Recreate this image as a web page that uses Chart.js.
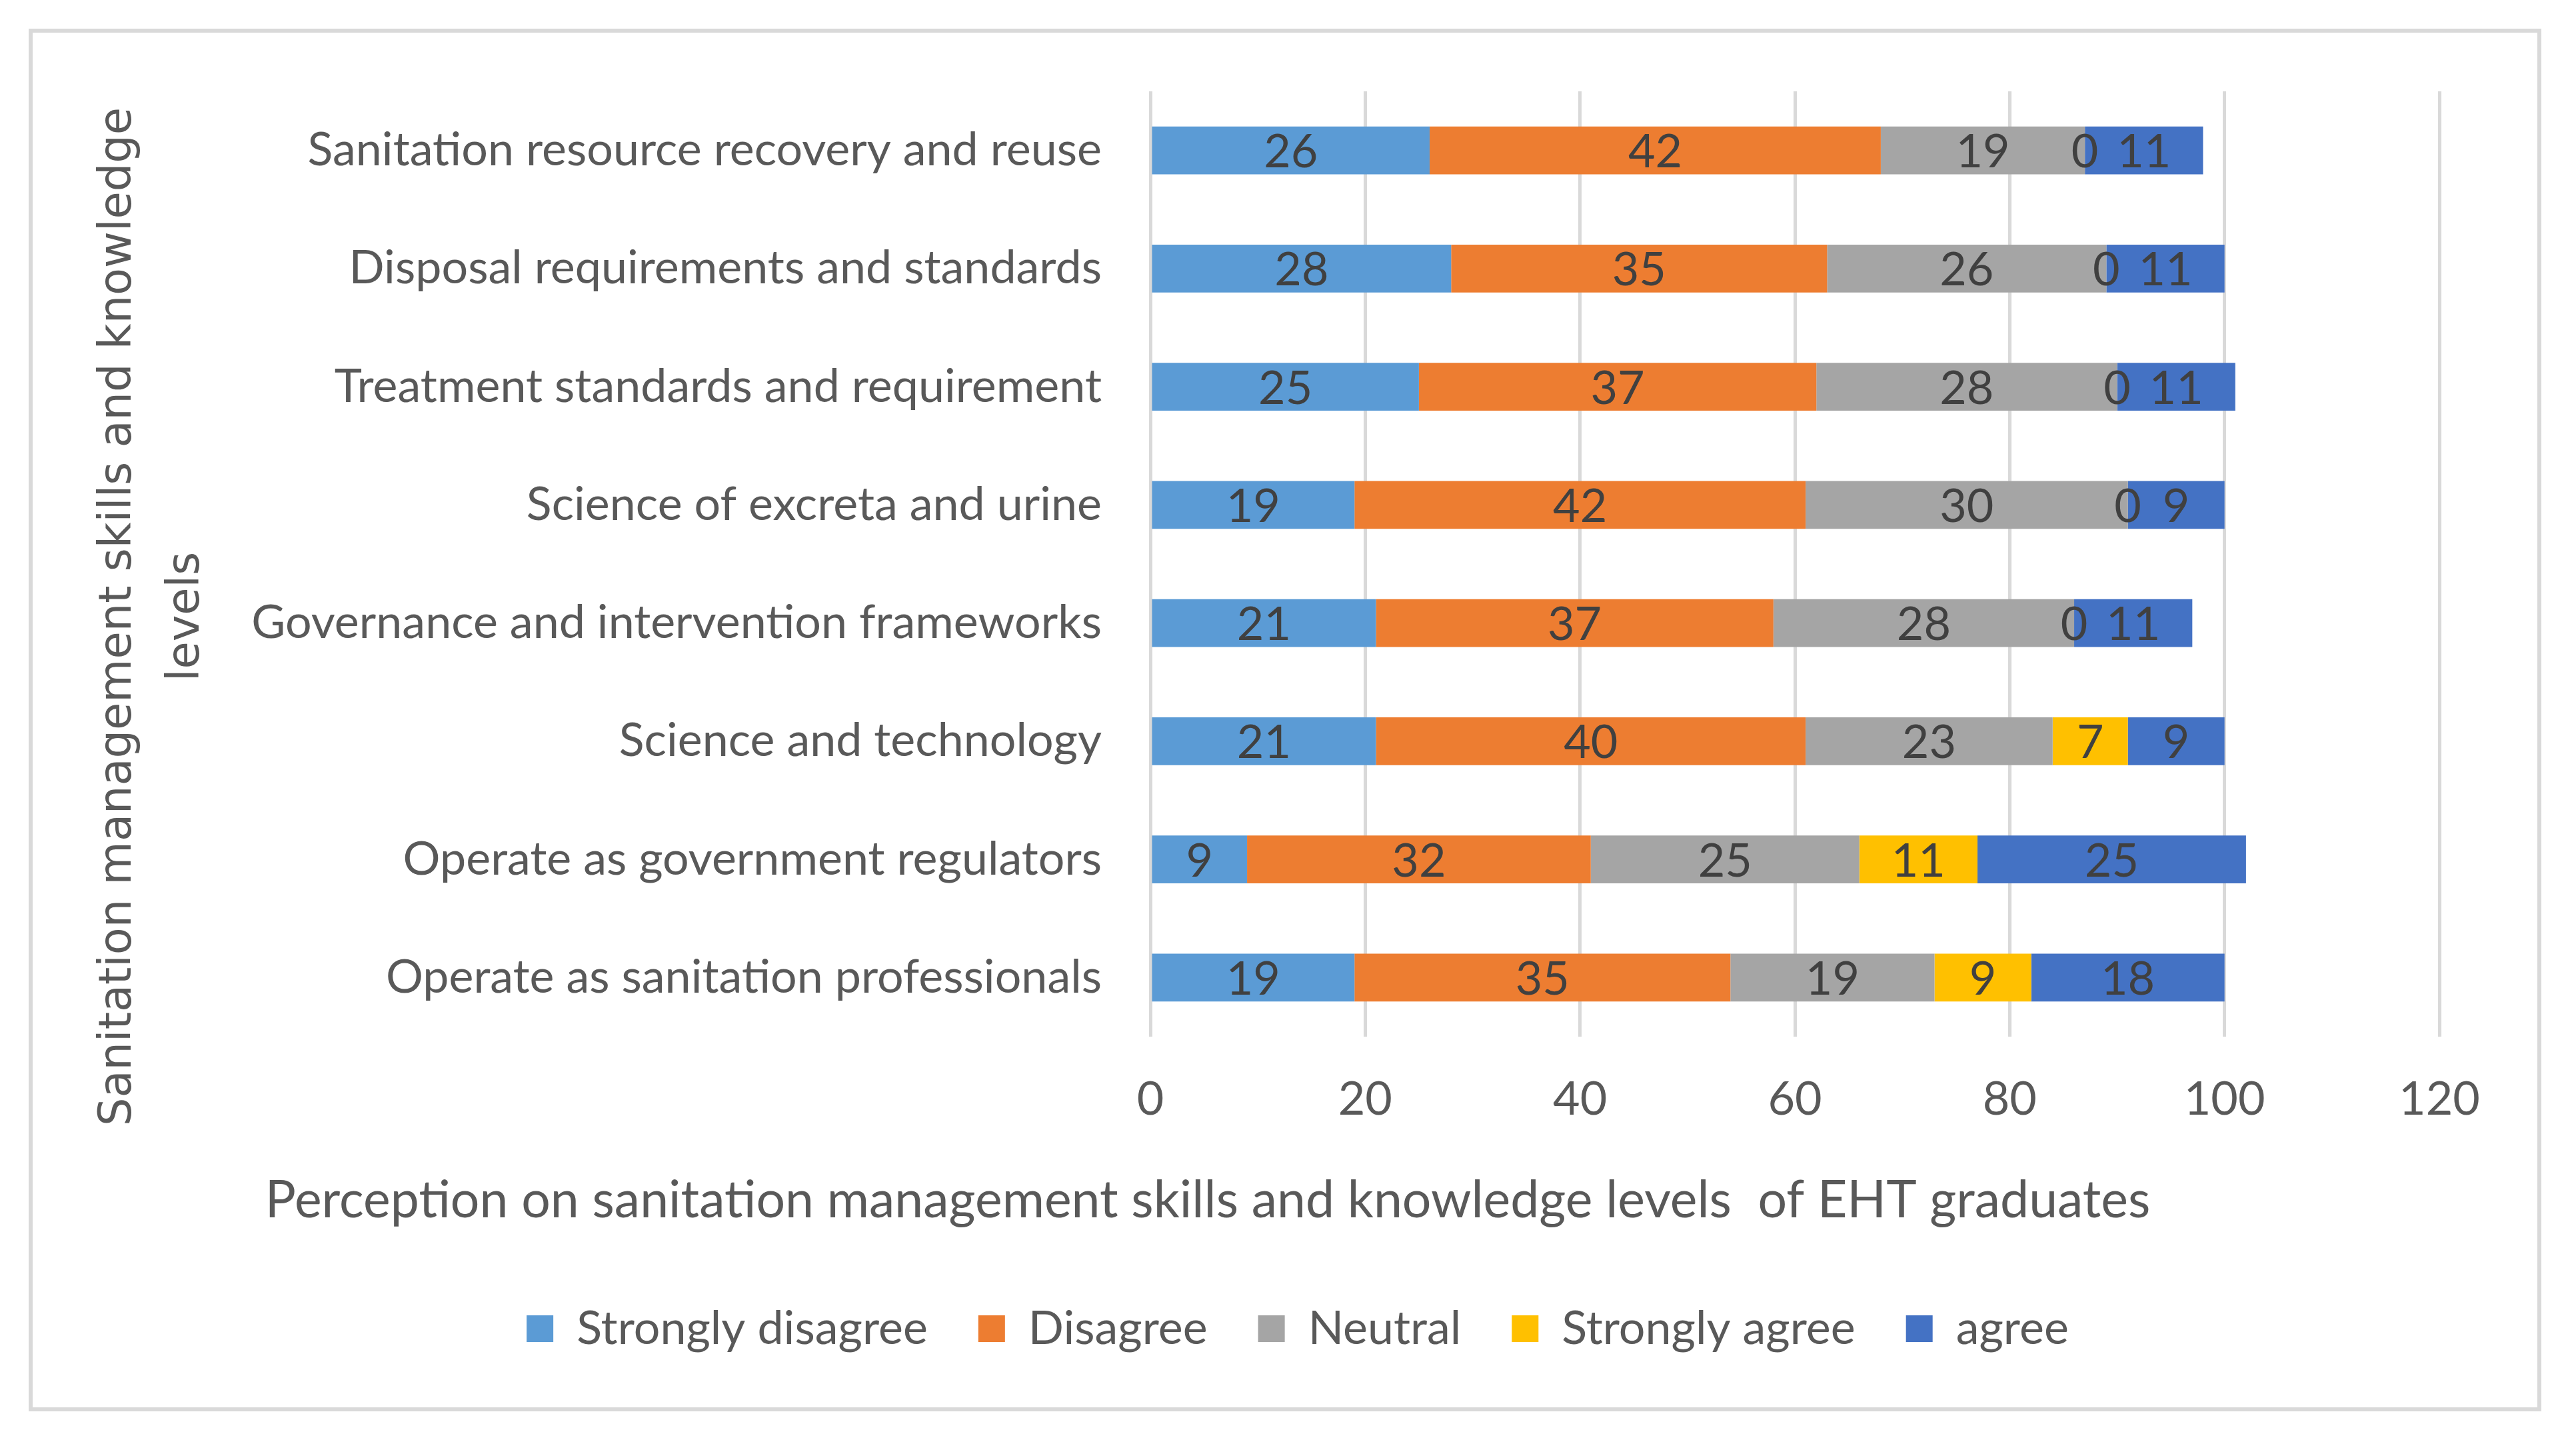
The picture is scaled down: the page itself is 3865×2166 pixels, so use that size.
<!DOCTYPE html>
<html>
<head>
<meta charset="utf-8">
<title>Perception on sanitation management skills</title>
<script src="https://cdn.jsdelivr.net/npm/chart.js@4.4.1/dist/chart.umd.min.js"></script>
<style>
  html, body { margin: 0; padding: 0; background: #ffffff; }
  #wrap { position: relative; width: 3865px; height: 2166px; }
</style>
</head>
<body>
<div id="wrap"><canvas id="skills-chart"></canvas></div>
<script>
// Data
const categories = [
  'Sanitation resource recovery and reuse',
  'Disposal requirements and standards',
  'Treatment standards and requirement',
  'Science of excreta and urine',
  'Governance and intervention frameworks',
  'Science and technology',
  'Operate as government regulators',
  'Operate as sanitation professionals'
];
const stronglyDisagree = [26, 28, 25, 19, 21, 21, 9, 19];
const disagree = [42, 35, 37, 42, 37, 40, 32, 35];
const neutral = [19, 26, 28, 30, 28, 23, 25, 19];
const stronglyAgree = [0, 0, 0, 0, 0, 7, 11, 9];
const agree = [11, 11, 11, 9, 11, 9, 25, 18];
const xTicks = [0, 20, 40, 60, 80, 100, 120];

const xTitle = 'Perception on sanitation management skills and knowledge levels  of EHT graduates';
const yTitle = ['Sanitation management skills and knowledge', 'levels'];

const FONT = 'Lato, "Open Sans", sans-serif';
const GREY_TEXT = '#595959';
const PAD_LEFT = 234;   // keeps the legend centred like the original

// Outer frame plus the two axis titles, drawn where the reference has them
const framePlugin = {
  id: 'frame',
  beforeDraw(chart) {
    const ctx = chart.ctx;
    ctx.save();
    ctx.fillStyle = '#ffffff';
    ctx.fillRect(0, 0, chart.width, chart.height);
    ctx.strokeStyle = '#D9D9D9';
    ctx.lineWidth = 6;
    ctx.strokeRect(46, 46, 3764, 2068);
    ctx.restore();
  },
  afterDraw(chart) {
    const ctx = chart.ctx;
    ctx.save();
    ctx.fillStyle = GREY_TEXT;
    ctx.textAlign = 'center';
    ctx.textBaseline = 'alphabetic';
    ctx.font = '77px ' + FONT;
    ctx.fillText(xTitle, 1812, 1826);

    ctx.font = '67px "DejaVu Sans", sans-serif';
    const baselines = [196, 298];
    yTitle.forEach((line, i) => {
      ctx.save();
      ctx.translate(baselines[i], 925);
      ctx.rotate(-Math.PI / 2);
      ctx.fillText(line, 0, 0);
      ctx.restore();
    });
    ctx.restore();
  }
};

// Value labels in the middle of each segment (zeros too, like Excel)
const valueLabels = {
  id: 'valueLabels',
  afterDatasetsDraw(chart) {
    const ctx = chart.ctx;
    ctx.save();
    ctx.fillStyle = '#404040';
    ctx.font = '70px ' + FONT;
    ctx.textAlign = 'center';
    ctx.textBaseline = 'middle';
    chart.data.datasets.forEach((ds, di) => {
      const meta = chart.getDatasetMeta(di);
      meta.data.forEach((bar, i) => {
        const cx = (bar.x + bar.base) / 2;
        ctx.fillText(String(ds.data[i]), cx, bar.y + 3);
      });
    });
    ctx.restore();
  }
};

document.addEventListener('DOMContentLoaded', function() {
  const ctx = document.getElementById('skills-chart').getContext('2d');

  new Chart(ctx, {
    type: 'bar',
    data: {
      labels: categories,
      datasets: [
        { label: 'Strongly disagree', data: stronglyDisagree, backgroundColor: '#5B9BD5' },
        { label: 'Disagree', data: disagree, backgroundColor: '#ED7D31' },
        { label: 'Neutral', data: neutral, backgroundColor: '#A5A5A5' },
        { label: 'Strongly agree', data: stronglyAgree, backgroundColor: '#FFC000' },
        { label: 'agree', data: agree, backgroundColor: '#4472C4' }
      ]
    },
    options: {
      indexAxis: 'y',
      responsive: true,
      maintainAspectRatio: false,
      animation: false,
      devicePixelRatio: 1,
      layout: {
        padding: { top: 137, right: 205, bottom: 128, left: PAD_LEFT }
      },
      datasets: {
        bar: { categoryPercentage: 0.405, barPercentage: 1.0, borderWidth: 0 }
      },
      scales: {
        x: {
          stacked: true,
          min: 0,
          max: 120,
          afterBuildTicks(scale) {
            scale.ticks = xTicks.map(v => ({ value: v }));
          },
          afterFit(scale) {
            scale.height = 327;
          },
          grid: { color: '#D9D9D9', lineWidth: 5, drawTicks: false },
          border: { display: false },
          ticks: {
            color: GREY_TEXT,
            font: { family: FONT, size: 70 },
            padding: 52
          }
        },
        y: {
          stacked: true,
          afterFit(scale) {
            scale.width = 1726 - PAD_LEFT;
          },
          grid: { display: false, drawTicks: false },
          border: { display: false },
          ticks: {
            color: GREY_TEXT,
            font: { family: FONT, size: 70 },
            padding: 73
          }
        }
      },
      plugins: {
        legend: {
          position: 'bottom',
          labels: {
            color: GREY_TEXT,
            font: { family: FONT, size: 70 },
            boxWidth: 40,
            boxHeight: 40,
            padding: 76
          }
        },
        tooltip: { enabled: false }
      }
    },
    plugins: [framePlugin, valueLabels]
  });
});
</script>
</body>
</html>
